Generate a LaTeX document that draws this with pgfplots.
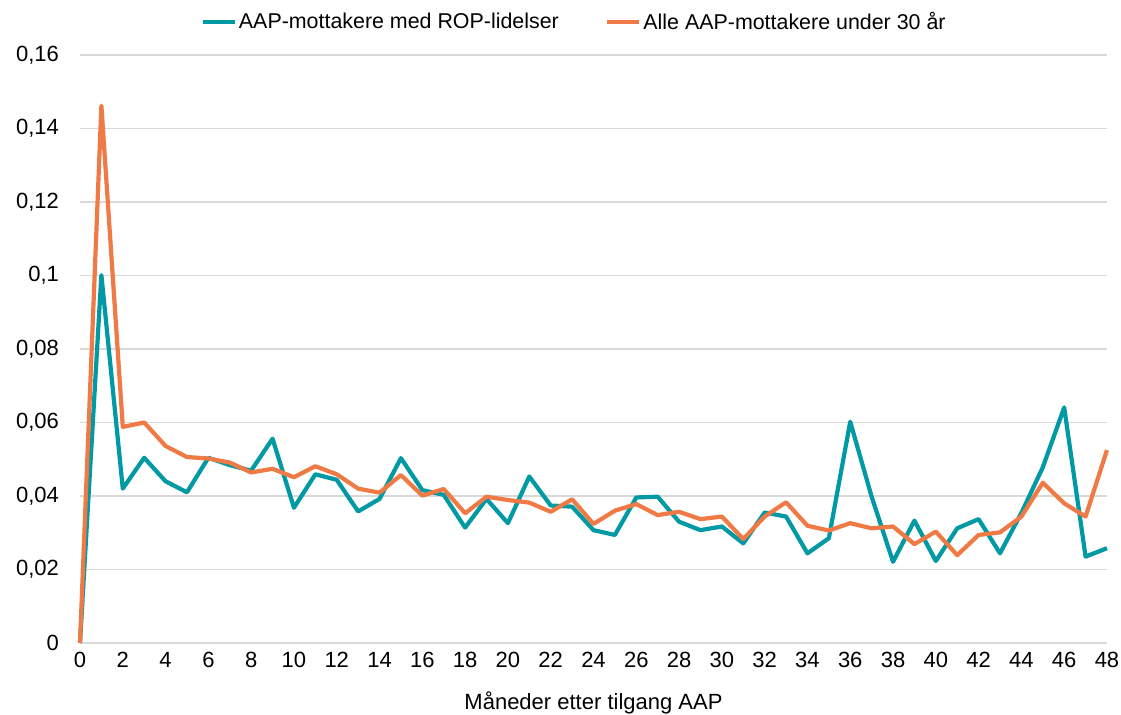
\documentclass[border=0pt]{standalone}
\usepackage{fontspec}
\setmainfont{Liberation Sans}
\usepackage{pgfplots}
\pgfplotsset{compat=1.18}
\definecolor{rop}{RGB}{0,153,164}
\definecolor{alle}{RGB}{239,122,70}
\definecolor{gridgray}{RGB}{217,217,217}

\pgfplotstableread{
m rop alle
0 0 0
1 0.1001 0.1462
2 0.0420 0.0588
3 0.0504 0.0600
4 0.0440 0.0536
5 0.0410 0.0506
6 0.0504 0.0502
7 0.0484 0.0491
8 0.0469 0.0464
9 0.0556 0.0474
10 0.0368 0.0451
11 0.0459 0.0481
12 0.0444 0.0459
13 0.0358 0.0420
14 0.0392 0.0409
15 0.0503 0.0457
16 0.0416 0.0401
17 0.0403 0.0419
18 0.0314 0.0353
19 0.0392 0.0398
20 0.0326 0.0389
21 0.0453 0.0382
22 0.0374 0.0357
23 0.0371 0.0391
24 0.0307 0.0324
25 0.0294 0.0360
26 0.0396 0.0378
27 0.0398 0.0348
28 0.0330 0.0357
29 0.0307 0.0337
30 0.0317 0.0344
31 0.0271 0.0283
32 0.0355 0.0344
33 0.0344 0.0383
34 0.0244 0.0319
35 0.0285 0.0306
36 0.0602 0.0326
37 0.0398 0.0312
38 0.0221 0.0317
39 0.0333 0.0269
40 0.0223 0.0303
41 0.0312 0.0239
42 0.0337 0.0294
43 0.0244 0.0301
44 0.0354 0.0344
45 0.0478 0.0436
46 0.0641 0.0380
47 0.0235 0.0344
48 0.0258 0.0525
}\data

\begin{document}
\begin{tikzpicture}
\begin{axis}[
  scale only axis,
  width=513.5pt, height=294pt,
  xmin=0, xmax=48, ymin=0, ymax=0.16,
  xtick={0,2,...,48},
  ytick={0,0.02,...,0.16},
  axis line style={draw=none},
  major tick length=0pt,
  xmajorgrids=false, ymajorgrids=true,
  grid style={draw=gridgray, line width=0.6pt},
  font=\fontsize{11}{13}\selectfont,
  /pgf/number format/.cd, use comma, fixed, assume math mode=true,
  /pgfplots/.cd,
  yticklabel style={xshift=-7pt},
  xticklabel style={yshift=-1pt},
  xlabel={Måneder etter tilgang AAP},
  xlabel style={at={(axis description cs:0.5,-0.102)}, anchor=center},
  legend columns=2,
  legend style={draw=none, fill=none, at={(axis description cs:0.481,1.056)}, anchor=center,
    /tikz/every even column/.append style={column sep=22pt},
    nodes={inner xsep=1pt}, font=\fontsize{10.7}{13}\selectfont},
  legend image code/.code={\draw[#1, line width=2.3pt] (0pt,0pt) -- (16pt,0pt);},
  clip=false,
]
\addplot[rop, line width=2.1pt, line join=round] table[x=m, y=rop] {\data};
\addlegendentry{AAP-mottakere med ROP-lidelser}
\addplot[alle, line width=2.1pt, line join=round] table[x=m, y=alle] {\data};
\addlegendentry{Alle AAP-mottakere under 30 år}
\end{axis}
\pgfresetboundingbox
\path (-40pt,-36pt) rectangle (520.5pt,321.5pt);
\end{tikzpicture}
\end{document}
